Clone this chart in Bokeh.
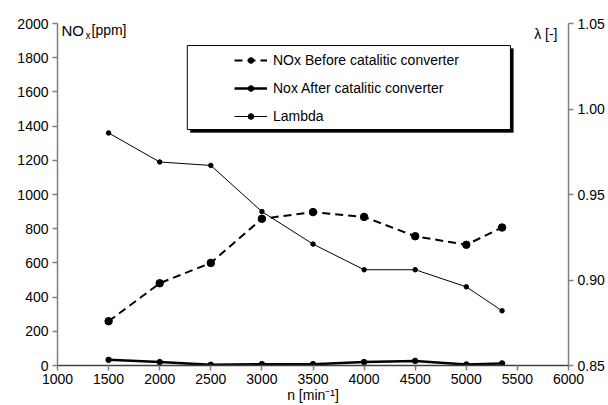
from bokeh.plotting import figure
from bokeh.models import (Range1d, LinearAxis, Legend, LegendItem, Label,
                          BoxAnnotation, FixedTicker, NumeralTickFormatter)
from bokeh.embed import file_html
from bokeh.resources import INLINE

# ---- data ----
rpm = [1500, 2000, 2500, 3000, 3500, 4000, 4500, 5000, 5350]
nox_before = [259, 481, 600, 858, 897, 869, 756, 706, 807]
nox_after = [33, 20, 4, 8, 8, 20, 27, 6, 12]
lam = [0.986, 0.969, 0.967, 0.940, 0.921, 0.906, 0.906, 0.896, 0.882]

x_ticks = [1000, 1500, 2000, 2500, 3000, 3500, 4000, 4500, 5000, 5500, 6000]
y_ticks = [0, 200, 400, 600, 800, 1000, 1200, 1400, 1600, 1800, 2000]
lam_ticks = [0.85, 0.90, 0.95, 1.00, 1.05]

labels = ["NOx Before catalitic converter", "Nox After catalitic converter", "Lambda"]

FONT = "Liberation Sans"
AX = "#7f7f7f"

p = figure(frame_width=511, frame_height=342,
           min_border_left=57, min_border_right=36,
           min_border_top=23, min_border_bottom=38,
           x_range=Range1d(1000, 6000), y_range=Range1d(0, 2000),
           output_backend="svg", toolbar_location=None)
p.extra_y_ranges = {"lam": Range1d(0.85, 1.05)}
p.xgrid.visible = False
p.ygrid.visible = False
p.outline_line_color = None
p.background_fill_color = "white"
p.border_fill_color = "white"

def style_axis(ax):
    ax.axis_line_color = AX
    ax.axis_line_width = 1.5
    ax.major_tick_line_color = AX
    ax.major_tick_line_width = 1.5
    ax.major_tick_in = 0
    ax.major_tick_out = 5
    ax.minor_tick_line_color = None
    ax.major_label_text_font = FONT
    ax.major_label_text_font_size = "14px"
    ax.major_label_text_color = "black"

p.xaxis.ticker = FixedTicker(ticks=x_ticks)
p.yaxis.ticker = FixedTicker(ticks=y_ticks)
style_axis(p.xaxis[0])
style_axis(p.yaxis[0])
p.xaxis.axis_line_color = "#404040"
p.xaxis.major_label_standoff = 3
p.yaxis.major_label_standoff = 4
p.xaxis.axis_label = "n [min\u207b\u00b9]"
p.xaxis.axis_label_text_font = FONT
p.xaxis.axis_label_text_font_style = "normal"
p.xaxis.axis_label_text_font_size = "14px"
p.xaxis.axis_label_text_color = "black"
p.xaxis.axis_label_standoff = 0

rax = LinearAxis(y_range_name="lam", ticker=FixedTicker(ticks=lam_ticks),
                 formatter=NumeralTickFormatter(format="0.00"))
style_axis(rax)
rax.major_label_standoff = 4
p.add_layout(rax, "right")

# ---- series ----
l1 = p.line(rpm, nox_before, line_color="black", line_width=2, line_dash="8 5")
s1 = p.scatter(rpm, nox_before, size=7.5, marker="circle", color="black")
l2 = p.line(rpm, nox_after, line_color="black", line_width=2.5)
s2 = p.scatter(rpm, nox_after, size=5.5, marker="circle", color="black")
l3 = p.line(rpm, lam, line_color="black", line_width=1, y_range_name="lam")
s3 = p.scatter(rpm, lam, size=4.5, marker="circle", color="black", y_range_name="lam")

# ---- legend frame with shadow ----
bl, br, bt, bb = 2270, 5432, 1871, 1380
dx, dy = 29, 17.5
p.add_layout(BoxAnnotation(left=bl + dx, right=br + dx, top=bt - dy, bottom=bb - dy,
                           fill_color="black", fill_alpha=1, line_color="black"))
p.add_layout(BoxAnnotation(left=bl, right=br, top=bt, bottom=bb,
                           fill_color="white", fill_alpha=1,
                           line_color="black", line_width=1, line_alpha=1))

legend = Legend(items=[LegendItem(label=labels[0], renderers=[l1, s1]),
                       LegendItem(label=labels[1], renderers=[l2, s2]),
                       LegendItem(label=labels[2], renderers=[l3, s3])],
                location=(177, 239), padding=0, margin=0, spacing=8,
                glyph_width=33, glyph_height=14, label_height=20,
                label_standoff=6, border_line_alpha=0, background_fill_alpha=0,
                label_text_font=FONT, label_text_font_size="14px",
                label_text_color="black")
p.add_layout(legend)

# ---- axis titles inside the frame ----
p.add_layout(Label(x=1000, y=2000, text="NO", x_offset=4, y_offset=2,
                   text_baseline="top", text_font=FONT, text_font_size="15px",
                   text_color="black"))
p.add_layout(Label(x=1000, y=2000, text="x", x_offset=28, y_offset=-6,
                   text_baseline="top", text_font=FONT, text_font_size="10px",
                   text_color="black"))
p.add_layout(Label(x=1000, y=2000, text="[ppm]", x_offset=34, y_offset=2,
                   text_baseline="top", text_font=FONT, text_font_size="14px",
                   text_color="black"))
p.add_layout(Label(x=6000, y=2000, text="\u03bb [-]", x_offset=-11, y_offset=-10,
                   text_align="right", text_baseline="middle",
                   text_font=FONT, text_font_size="14px", text_color="black"))

open("out.html", "w").write(file_html(p, INLINE))
